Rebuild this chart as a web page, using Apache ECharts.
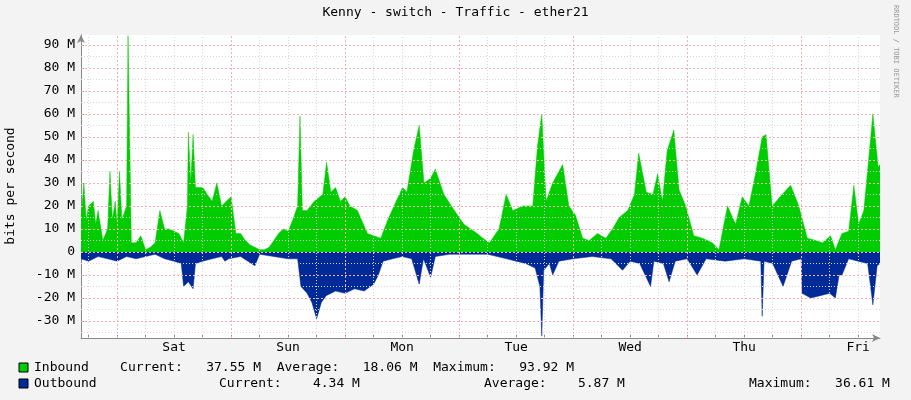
<!DOCTYPE html>
<html><head><meta charset="utf-8">
<script src="https://cdn.jsdelivr.net/npm/echarts@6/dist/echarts.min.js"></script>
<style>html,body{margin:0;background:#f3f3f3}#c{width:911px;height:400px}</style>
</head><body><div id="c"></div>
<script>
// hours relative to Saturday 00:00
const inHours=[-7.6,-7,-6.5,-6,-5,-4.5,-4,-3,-2,-1.5,-1,-0.4,0,0.5,1,2,2.3,3,4,5,6,7,8,9,10,11,12,13,14,14.8,15,15.5,16,16.5,17,18,19,20,21,22,23,24,25,26,27,28,29,30,31,32,33,34,35,36,37,38,38.5,39,40,41.5,43.3,44.1,45,46,47,48,49,50.6,52.7,54,55.5,57,58.3,60.1,61,62.5,63.6,64.6,66,67,68.8,71,73,75.8,77,78.4,80.4,81.9,83.3,85.4,87.5,88.5,89.4,90.3,91.7,93.8,95.1,96.5,98,99.4,101.1,102.9,104.3,105.7,107.5,108.9,109.8,111.4,112.8,113.8,114.8,115.8,117.2,118.3,119.7,121.4,123.2,125.3,126.7,128.5,130.2,131.6,133,134.4,135.8,136.6,137.9,140,141.8,143.5,145.3,147.1,148.5,150.2,151.2,152.6,154,155.1,156.1,157.2,158.2,159.1,160.2,160.6];
const inVals=[15,30,14,20,22,12,18,5,10,35,14,22,12,35,14,20,94,4,4,7,1,2,4,18,10,10,9,8,4,20,52,30,51,28,28,28,25,22,30,20,22,24,8,8,5,3,2,1,1,2,5,8,10,9,14,20,59,18,18,22,25,39,26,28,22,24,20,18,8,7,6,14,20,28,26,45,55,30,32,36,25,18,12,8,6,4,10,25,18,20,20,46,60,22,30,38,20,16,6,5,8,6,10,15,18,25,43,26,25,34,22,44,53,27,20,7,6,4,1,20,12,24,20,34,50,51,20,25,29,20,6,5,4,7,1,8,9,29,12,18,40,60,37,38];
const outHours=[-7.6,-6,-4,-2,0,2,4,6,8,10,12,13.5,14,15,16,16.5,18,20,22,22.7,23.5,26,29,30,33,36,38,38.7,40,41,42,43,44,46,48,50,52,54,55,56,58,60,62,63.6,64.5,66,67,70,74,78,80,82,84,86,88,89,89.4,89.8,91,91.7,93,96,100,104,106.4,108,110,112.3,113,115,116.2,117.5,120,122.1,124,128,132,135.5,135.8,136.2,138,140.2,142,144,144.2,146,148,150,151.2,152,152.6,154,156,158,159.1,160,160.6];
const outVals=[-3,-4,-2,-3,-4,-2,-3,-2,-1,-3,-4,-5,-15,-13,-16,-5,-4,-3,-2,-4,-3,-2,-6,-1,-2,-3,-3,-15,-18,-22,-29,-22,-19,-17,-18,-16,-17,-14,-10,-4,-3,-2,-3,-14,-3,-11,-2,-1,-1,-1,-2,-3,-4,-5,-7,-15,-36.6,-8,-5,-10,-4,-3,-2,-3,-8,-4,-5,-15,-4,-5,-13,-4,-3,-10,-3,-4,-3,-4,-28,-4,-5,-15,-4,-3,-18,-20,-19,-18,-20,-10,-10,-3,-4,-5,-23,-6,-5];
const yTicks=[-30,-20,-10,0,10,20,30,40,50,60,70,80,90];
const dayNoons=[12,36,60,84,108,132,156];
const dayNames=['Sat','Sun','Mon','Tue','Wed','Thu','Fri'];
const midnights=[0,24,48,72,96,120,144];
const sixHours=[];for(let h=-6;h<=160;h+=6)if(h%24!==0)sixHours.push(h);
const fiveM=[];for(let v=-35;v<=90;v+=10)fiveM.push(v);

const font='DejaVu Sans Mono';
const chart=echarts.init(document.getElementById('c'));
const red={color:'#f4b0b0',type:[2,2],width:1};
const gray={color:'#d8d8d8',type:[1,2],width:1};
const ml=(arr,ax,st)=>arr.map(v=>({[ax]:v,lineStyle:st}));
chart.setOption({
 animation:false,backgroundColor:'#f3f3f3',
 grid:{left:81,right:31,top:35,bottom:62,show:true,backgroundColor:'#fff',borderWidth:0},
 xAxis:{type:'value',min:-7.6,max:160.6,splitLine:{show:false},
  axisLine:{onZero:false,lineStyle:{color:'#888'},symbol:['none','arrow'],symbolSize:[6,8]},
  axisTick:{customValues:sixHours.concat(midnights),length:-3,lineStyle:{color:'#888'}},
  axisLabel:{customValues:dayNoons,formatter:v=>dayNames[dayNoons.indexOf(v)],fontFamily:font,fontSize:13,color:'#000',margin:3}},
 yAxis:{type:'value',min:-37.4,max:94.3,splitLine:{show:false},
  axisLine:{show:true,onZero:false,lineStyle:{color:'#888'},symbol:['none','arrow'],symbolSize:[6,8]},
  axisTick:{customValues:yTicks,length:-3,lineStyle:{color:'#888'}},
  axisLabel:{customValues:yTicks,formatter:v=>v===0?'0':v+' M',fontFamily:font,fontSize:13,color:'#000',margin:6}},
 graphic:[
  {type:'text',left:'center',top:6,style:{text:'Kenny - switch - Traffic - ether21',font:'13px '+font,fill:'#000'}},
  {type:'text',x:4,y:186,rotation:Math.PI/2,style:{text:'bits per second',font:'13px '+font,fill:'#000',align:'center'}},
  {type:'text',x:899,y:5,rotation:-Math.PI/2,style:{text:'RRDTOOL / TOBI OETIKER',font:'7px '+font,fill:'#999'}},
  {type:'rect',shape:{x:19,y:363,width:9,height:9},style:{fill:'#00cc00',stroke:'#000'}},
  {type:'text',x:34,y:361,style:{text:'Inbound    Current:   37.55 M  Average:   18.06 M  Maximum:   93.92 M',font:'13px '+font,fill:'#000'}},
  {type:'rect',shape:{x:19,y:379,width:9,height:9},style:{fill:'#002a97',stroke:'#000'}},
  {type:'text',x:34,y:377,style:{text:'Outbound',font:'13px '+font,fill:'#000'}},
  {type:'text',x:219,y:377,style:{text:'Current:    4.34 M',font:'13px '+font,fill:'#000'}},
  {type:'text',x:484,y:377,style:{text:'Average:    5.87 M',font:'13px '+font,fill:'#000'}},
  {type:'text',x:749,y:377,style:{text:'Maximum:   36.61 M',font:'13px '+font,fill:'#000'}}
 ],
 series:[
  {type:'line',data:[],z:1,silent:true,markLine:{silent:true,symbol:'none',label:{show:false},animation:false,
   data:ml(fiveM,'yAxis',gray).concat(ml(sixHours,'xAxis',gray),ml(yTicks,'yAxis',red),ml(midnights,'xAxis',red))}},
  {type:'line',z:2,data:inHours.map((h,i)=>[h,inVals[i]]),showSymbol:false,lineStyle:{width:0.5,color:'#00cc00'},areaStyle:{color:'#00cc00',opacity:1}},
  {type:'line',z:2,data:outHours.map((h,i)=>[h,outVals[i]]),showSymbol:false,lineStyle:{width:0.5,color:'#002a97'},areaStyle:{color:'#002a97',opacity:1}}
 ]
});
</script></body></html>
